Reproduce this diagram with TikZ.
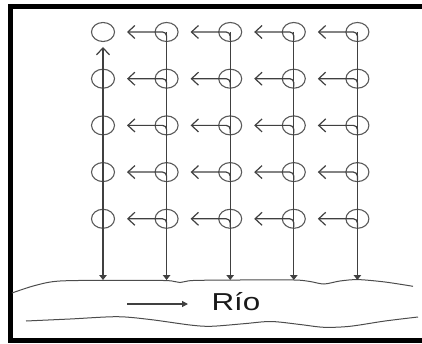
\documentclass[tikz,border=0pt]{standalone}
\usepackage{fontspec}
\newfontfamily\riofont{Liberation Sans}
\usetikzlibrary{arrows.meta,shapes.geometric}

\tikzset{
  pozo/.style={ellipse,draw=black!65,line width=1.1pt,minimum width=23pt,
    minimum height=19pt,inner sep=0pt},
  flujo/.style={draw=black!75,line width=1.2pt,rounded corners=4pt,
    -{Straight Barb[length=7pt,width=13pt]}},
  caida/.style={draw=black!75,line width=1.2pt,-{Triangle[length=5pt,width=7.5pt]}},
  orilla/.style={draw=black!70,line width=1pt},
}

\begin{document}
\begin{tikzpicture}[x=1pt,y=-1pt]
  \useasboundingbox (0,0) rectangle (422,344);
  % marco (sin lado derecho)
  \draw[line width=5pt] (430,6.3) -- (10.6,6.3) -- (10.6,340.8) -- (430,340.8);

  % pozos
  \foreach \c/\x in {1/103,2/166.6,3/230.2,4/293.8,5/357.4} {
    \foreach \r/\y in {1/32,2/78.7,3/125.4,4/172.1,5/218.8}
      \node[pozo] (p-\r-\c) at (\x,\y) {};
    \coordinate (b-\c) at (\x,280);
  }

  % orillas del rio
  \draw[orilla] plot[smooth] coordinates {(12,293) (35,285.5) (60,281) (120,280.3)
    (167,280.6) (180,282.5) (193,280.5) (240,280) (294,280) (310,281.5) (324,284)
    (340,281) (358,279.6) (385,282) (413,286.3)};
  \draw[orilla] plot[smooth] coordinates {(26,321) (70,319) (117,316.7) (150,319.5)
    (190,325) (211,326.3) (244,323.7) (271,321.5) (300,324.5) (324,327.3) (350,326.3)
    (385,321) (418,317)};

  % bajadas al rio
  \draw[caida,{Straight Barb[length=7pt,width=13pt]}-{Triangle[length=5pt,width=7.5pt]}]
    ([yshift=-15pt]p-1-1.center) -- (b-1);
  \foreach \c in {2,...,5}
    \draw[caida] (p-1-\c.center) -- (b-\c);

  % flujo entre pozos
  \foreach \r in {1,...,5}
    \foreach \c/\v in {2/1,3/2,4/3,5/4}
      \draw[flujo] ([yshift=-8pt]p-\r-\c.center) -- (p-\r-\c.center)
        -- ([xshift=24pt]p-\r-\v.center);

  % sentido de la corriente
  \coordinate (f0) at (127,304);
  \coordinate (f1) at (188,304);
  \draw[caida,-{Triangle[length=6pt,width=6pt]}] (f0) -- (f1);
  \node[font=\riofont\fontsize{24.5}{26}\selectfont,text=black!90,xscale=1.28,
    anchor=base,inner sep=0pt] (rio) at (236,310) {Río};
\end{tikzpicture}
\end{document}
